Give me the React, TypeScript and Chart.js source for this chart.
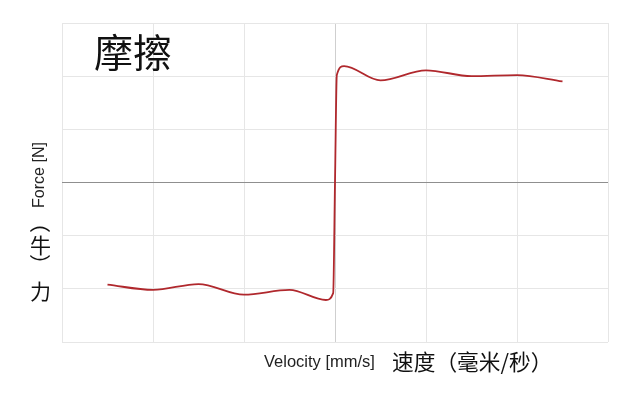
import React, { useEffect, useRef } from "react";
import Chart from "chart.js/auto";

const velocity = [-2.5, -2.0, -1.5, -1.0, -0.5, -0.1, -0.02, 0, 0.02, 0.1, 0.5, 1.0, 1.5, 2.0, 2.5];
const force = [-1.92, -2.02, -1.91, -2.11, -2.02, -2.21, -2.08, 0, 2.02, 2.19, 1.92, 2.11, 2.0, 2.02, 1.9];
const axisMin = -3;
const axisMax = 3;

const titleText = "摩擦";
const yLabelEn = "Force [N]";
const yLabelZhChars = ["（", "牛", "）", "力"];
const xLabelEn = "Velocity [mm/s]";
const xLabelZh = "速度（毫米/秒）";

const cjk = '"Noto Sans CJK SC", "Noto Sans", sans-serif';
const latin = '"Liberation Sans", Arial, sans-serif';

export default function App() {
  const canvasRef = useRef<HTMLCanvasElement | null>(null);

  useEffect(() => {
    const canvas = canvasRef.current;
    if (!canvas) return;
    const points = velocity.map((v, i) => ({ x: v, y: force[i] }));
    const chart = new Chart(canvas, {
      type: "scatter",
      data: {
        datasets: [
          {
            data: points,
            showLine: true,
            borderColor: "#b0282d",
            borderWidth: 1.8,
            pointRadius: 0,
            cubicInterpolationMode: "monotone",
            fill: false,
          },
        ],
      },
      options: {
        responsive: false,
        animation: false,
        events: [],
        layout: { padding: { left: 62, right: 32, top: 23, bottom: 60 } },
        plugins: { legend: { display: false }, tooltip: { enabled: false } },
        scales: {
          x: {
            type: "linear",
            min: axisMin,
            max: axisMax,
            ticks: { display: false, stepSize: 1 },
            border: { display: false },
            grid: {
              drawTicks: false,
              color: (ctx: any) => (ctx.tick && ctx.tick.value === 0 ? "#cfcfcf" : "#e6e6e6"),
              lineWidth: 1,
            },
          },
          y: {
            type: "linear",
            min: axisMin,
            max: axisMax,
            ticks: { display: false, stepSize: 1 },
            border: { display: false },
            grid: {
              drawTicks: false,
              color: (ctx: any) => (ctx.tick && ctx.tick.value === 0 ? "#8f8f8f" : "#e6e6e6"),
              lineWidth: 1,
            },
          },
        },
      },
    });
    return () => chart.destroy();
  }, []);

  // vertical label: centers of each character box
  const zhCenters = [222.5, 244, 264.5, 290];

  return (
    <div
      style={{
        position: "fixed",
        left: 0,
        top: 0,
        width: 640,
        height: 402,
        background: "#ffffff",
        overflow: "hidden",
      }}
    >
      <canvas ref={canvasRef} width={640} height={402} style={{ position: "absolute", left: 0, top: 0 }} />
      <div
        style={{
          position: "absolute",
          left: 94,
          top: 31,
          fontFamily: cjk,
          fontSize: 39,
          lineHeight: 1,
          color: "#111",
          whiteSpace: "nowrap",
        }}
      >
        {titleText}
      </div>
      <div
        style={{
          position: "absolute",
          left: 39,
          top: 175,
          transform: "translate(-50%, -50%) rotate(-90deg)",
          fontFamily: latin,
          fontSize: 16,
          lineHeight: 1,
          color: "#222",
          whiteSpace: "nowrap",
        }}
      >
        {yLabelEn}
      </div>
      {yLabelZhChars.map((ch, i) => (
        <div
          key={i}
          style={{
            position: "absolute",
            left: 40.5 - 10.5,
            top: zhCenters[i] - 10.5,
            width: 21,
            height: 21,
            display: "flex",
            alignItems: "center",
            justifyContent: "center",
            fontFamily: cjk,
            fontSize: 21,
            lineHeight: 1,
            color: "#111",
            transform: ch === "（" || ch === "）" ? "rotate(90deg)" : undefined,
          }}
        >
          {ch}
        </div>
      ))}
      <div
        style={{
          position: "absolute",
          left: 264,
          top: 353,
          fontFamily: latin,
          fontSize: 16.5,
          lineHeight: 1,
          color: "#222",
          whiteSpace: "nowrap",
        }}
      >
        {xLabelEn}
      </div>
      <div
        style={{
          position: "absolute",
          left: 392,
          top: 350,
          fontFamily: cjk,
          fontSize: 21.7,
          lineHeight: 1,
          color: "#111",
          whiteSpace: "nowrap",
        }}
      >
        {xLabelZh}
      </div>
    </div>
  );
}
